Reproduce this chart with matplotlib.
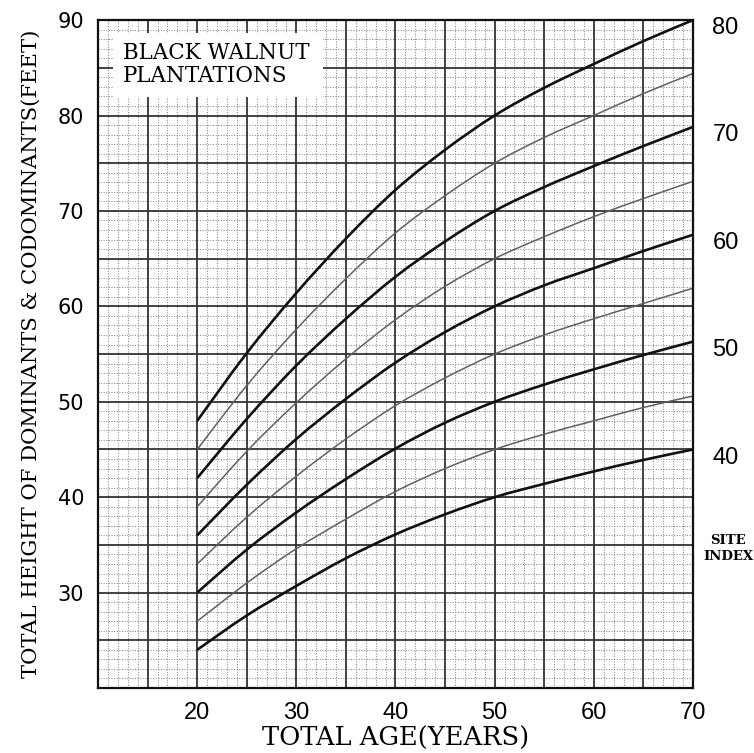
import matplotlib
matplotlib.use("Agg")
import matplotlib.pyplot as plt
from matplotlib.path import Path
from matplotlib.patches import PathPatch, Rectangle
import numpy as np

# ---------------------------------------------------------------------------
# Data (height in feet at each total age)
# ---------------------------------------------------------------------------
AGES = [20, 25, 30, 35, 40, 45, 50, 55, 60, 65, 70]

SI_80 = [48.0, 55.1, 61.4, 67.1, 72.2, 76.4, 80.0, 82.9, 85.4, 87.8, 90.0]
SI_75 = [45.0, 51.7, 57.6, 62.9, 67.7, 71.6, 75.0, 77.7, 80.0, 82.3, 84.4]
SI_70 = [42.0, 48.2, 53.8, 58.7, 63.1, 66.8, 70.0, 72.5, 74.7, 76.8, 78.8]
SI_65 = [39.0, 44.8, 49.9, 54.5, 58.6, 62.1, 65.0, 67.3, 69.4, 71.3, 73.1]
SI_60 = [36.0, 41.3, 46.1, 50.3, 54.1, 57.3, 60.0, 62.2, 64.0, 65.8, 67.5]
SI_55 = [33.0, 37.9, 42.2, 46.1, 49.6, 52.5, 55.0, 57.0, 58.7, 60.3, 61.9]
SI_50 = [30.0, 34.5, 38.4, 41.9, 45.1, 47.8, 50.0, 51.8, 53.4, 54.9, 56.3]
SI_45 = [27.0, 31.0, 34.6, 37.7, 40.6, 43.0, 45.0, 46.6, 48.0, 49.4, 50.6]
SI_40 = [24.0, 27.6, 30.7, 33.6, 36.1, 38.2, 40.0, 41.4, 42.7, 43.9, 45.0]

MAJOR_CURVES = {80: SI_80, 70: SI_70, 60: SI_60, 50: SI_50, 40: SI_40}
MINOR_CURVES = {75: SI_75, 65: SI_65, 55: SI_55, 45: SI_45}

X_TICKS = [20, 30, 40, 50, 60, 70]
Y_TICKS = [30, 40, 50, 60, 70, 80, 90]

SERIF = ["DejaVu Serif"]


def smooth_path(xs, ys):
    """Catmull-Rom through the read points, as cubic Bezier segments."""
    pts = np.column_stack([xs, ys]).astype(float)
    ext = np.vstack([pts[0], pts, pts[-1]])
    verts = [pts[0]]
    codes = [Path.MOVETO]
    for i in range(1, len(ext) - 2):
        p0, p1, p2, p3 = ext[i - 1], ext[i], ext[i + 1], ext[i + 2]
        verts += [p1 + (p2 - p0) / 6, p2 - (p3 - p1) / 6, p2]
        codes += [Path.CURVE4] * 3
    return Path(verts, codes)


# ---------------------------------------------------------------------------
# Figure
# ---------------------------------------------------------------------------
fig = plt.figure(figsize=(7.54, 7.53), dpi=100)
ax = fig.add_axes([0.130, 0.0863, 0.789, 0.887])

ax.set_xlim(10, 70)
ax.set_ylim(20, 90)

# graph-paper grid: dotted every unit, solid every 5
for x in range(11, 70):
    if x % 5:
        ax.axvline(x, color="#8a8a8a", lw=0.75, ls=(0, (1, 1.5)), zorder=1)
for y in range(21, 90):
    if y % 5:
        ax.axhline(y, color="#8a8a8a", lw=0.75, ls=(0, (1, 1.5)), zorder=1)
for x in range(15, 70, 5):
    ax.axvline(x, color="#333333", lw=1.3, zorder=2)
for y in range(25, 90, 5):
    ax.axhline(y, color="#333333", lw=1.3, zorder=2)

# white panel behind the title
ax.add_patch(Rectangle((0.025, 0.885), 0.353, 0.096, transform=ax.transAxes,
                       facecolor="white", edgecolor="none", zorder=3))
ax.text(0.042, 0.967, "BLACK WALNUT\nPLANTATIONS", transform=ax.transAxes,
        fontsize=15.5, family=SERIF, ha="left", va="top", linespacing=1.05,
        zorder=7)

for si, h in MINOR_CURVES.items():
    ax.add_patch(PathPatch(smooth_path(AGES, h), fill=False,
                           edgecolor="#606060", lw=1.1, zorder=4))
for si, h in MAJOR_CURVES.items():
    ax.add_patch(PathPatch(smooth_path(AGES, h), fill=False,
                           edgecolor="#111111", lw=1.9, zorder=5))
    ax.annotate(str(si), xy=(70, h[-1]), xytext=(14, -6),
                textcoords="offset points", ha="left", va="center",
                fontsize=17, family="Liberation Sans", annotation_clip=False)

for sp in ax.spines.values():
    sp.set_linewidth(1.6)
    sp.set_color("#111111")
    sp.set_zorder(6)

ax.set_xticks(X_TICKS)
ax.set_yticks(Y_TICKS)
ax.tick_params(length=0, pad=10)
for lab in ax.get_xticklabels():
    lab.set_fontsize(17)
    lab.set_family("Liberation Sans")
for lab in ax.get_yticklabels():
    lab.set_fontsize(15)
    lab.set_family("DejaVu Sans")

ax.set_xlabel("TOTAL AGE(YEARS)", fontsize=18.5, family=SERIF, va="center")
ax.xaxis.set_label_coords(0.5, -0.076)
ax.set_ylabel("TOTAL HEIGHT OF DOMINANTS & CODOMINANTS(FEET)", fontsize=15.2,
              family=SERIF, labelpad=12)

fig.text(728 / 754, 1 - 548 / 753, "SITE\nINDEX", fontsize=9.5,
         family=SERIF, fontweight="bold", ha="center", va="center",
         linespacing=1.3)

fig.savefig("out.png", dpi=100)
